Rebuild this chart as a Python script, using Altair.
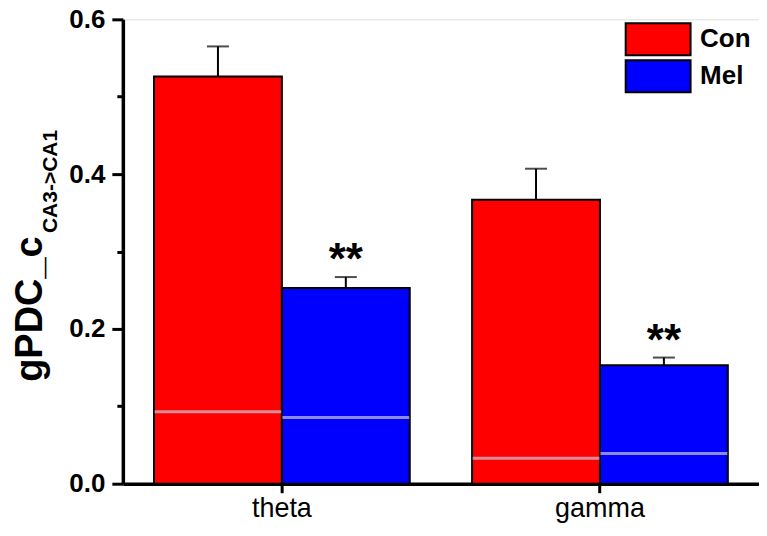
import altair as alt
import pandas as pd

bands = ["theta", "theta", "gamma", "gamma"]
groups = ["Con", "Mel", "Con", "Mel"]
means = [0.526, 0.253, 0.367, 0.153]
errs = [0.039, 0.014, 0.040, 0.010]
baselines = [0.093, 0.0855, 0.033, 0.039]
stars = ["", "**", "", "**"]

band_order = ["theta", "gamma"]
group_order = ["Con", "Mel"]
group_colors = ["#ff0000", "#0000ff"]

df = pd.DataFrame({
    "band": bands,
    "group": groups,
    "mean": means,
    "err": errs,
    "base": baselines,
    "star": stars,
})
df["top"] = df["mean"] + df["err"]

FONT = "Liberation Sans"

x = alt.X("band:N", sort=band_order,
          scale=alt.Scale(paddingInner=0.196, paddingOuter=0.098),
          axis=alt.Axis(title=None, labelAngle=0, labelFontSize=27, labelFont=FONT,
                        labelColor="black", labelPadding=3, tickSize=9, tickWidth=3,
                        tickColor="black", domainColor="black", domainWidth=3.5,
                        grid=False))
xo = alt.XOffset("group:N", sort=group_order,
                 scale=alt.Scale(paddingInner=0, paddingOuter=0))

yscale = alt.Scale(domain=[0, 0.6], nice=False, zero=True)

yaxis = alt.Axis(
    title=None,
    values=[0.0, 0.1, 0.2, 0.3, 0.4, 0.5, 0.6],
    labelExpr="round(datum.value*10) % 2 == 1 ? '' : format(datum.value, '.1f')",
    labelFontSize=26, labelFontWeight="bold", labelFont=FONT, labelColor="black",
    labelPadding=7,
    tickSize={"condition": {"test": "round(datum.value*10) % 2 == 1", "value": 6}, "value": 11},
    tickWidth=3, tickColor="black", domainColor="black", domainWidth=3.5, grid=False,
)

base = alt.Chart(df)

bars = base.mark_bar(stroke="black", strokeWidth=2, opacity=1).encode(
    x=x, xOffset=xo,
    y=alt.Y("mean:Q", scale=yscale, axis=yaxis),
    color=alt.Color("group:N", sort=group_order,
                    scale=alt.Scale(domain=group_order, range=group_colors),
                    legend=alt.Legend(
                        title=None, orient="none", legendX=519, legendY=3,
                        symbolType="M-2.03,-1H2.03V1H-2.03Z", symbolSize=1024,
                        symbolStrokeColor="black", symbolStrokeWidth=2,
                        symbolOpacity=1,
                        labelFontSize=26, labelFontWeight="bold", labelFont=FONT,
                        labelColor="black", labelOffset=25, rowPadding=-3, padding=0,
                    )),
)

err_rule = base.mark_rule(color="black", strokeWidth=2).encode(
    x=x, xOffset=xo, y=alt.Y("mean:Q", scale=yscale), y2="top:Q",
)

caps = base.mark_tick(color="black", thickness=2, size=22, orient="horizontal").encode(
    x=x, xOffset=xo, y=alt.Y("top:Q", scale=yscale),
)

gray = base.mark_tick(color="#c8c8d8", thickness=3, size=127, orient="horizontal").encode(
    x=x, xOffset=xo, y=alt.Y("base:Q", scale=yscale),
)

star_text = base.mark_text(fontSize=44, fontWeight="bold", font=FONT, color="black",
                           baseline="alphabetic", dy=-3).encode(
    x=x, xOffset=xo, y=alt.Y("top:Q", scale=yscale), text="star:N",
)

title_main = alt.Chart(alt.Data(values=[{"t": "gPDC_c"}])).mark_text(
    angle=270, align="left", baseline="alphabetic", fontSize=38, fontWeight="bold",
    font=FONT, color="black",
).encode(x=alt.value(-81), y=alt.value(363), text="t:N")

title_sub = alt.Chart(alt.Data(values=[{"t": "CA3->CA1"}])).mark_text(
    angle=270, align="left", baseline="alphabetic", fontSize=21, fontWeight="bold",
    font=FONT, color="black",
).encode(x=alt.value(-66), y=alt.value(214), text="t:N")

chart = alt.layer(bars, gray, err_rule, caps, star_text, title_main, title_sub).properties(
    width=637, height=465,
    autosize=alt.AutoSizeParams(type="none"),
    padding={"left": 115, "top": 11, "right": 0, "bottom": 40},
).configure_view(stroke=None).configure(background="white")

chart.save("out.html", embed_options={"renderer": "svg", "actions": False})
